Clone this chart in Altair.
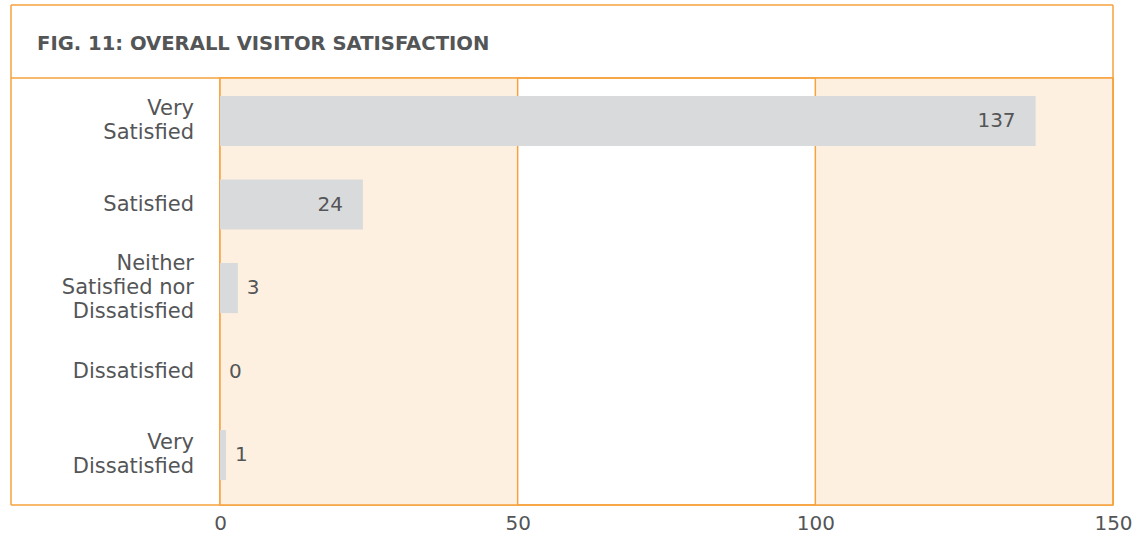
import altair as alt
import pandas as pd

# ---- data ----
categories = ["Very Satisfied", "Satisfied", "Neither Satisfied nor Dissatisfied",
              "Dissatisfied", "Very Dissatisfied"]
wrapped = ["Very\nSatisfied", "Satisfied", "Neither\nSatisfied nor\nDissatisfied",
           "Dissatisfied", "Very\nDissatisfied"]
counts = [137, 24, 3, 0, 1]
x_ticks = [0, 50, 100, 150]
band_starts = [0, 100]
band_ends = [50, 150]
title_text = "FIG. 11: OVERALL VISITOR SATISFACTION"

# ---- style ----
FONT = "DejaVu Sans"
TEXT = "#545557"
ORANGE = "#F7A23C"
BAND = "#FEF0E1"
BAR = "#D9DADC"
W, H = 893, 427
LH = 24
HALF_BAR = 25  # half of the bar thickness (yOffset is measured from band start)

df = pd.DataFrame({"category": categories, "label": wrapped, "count": counts})
bands = pd.DataFrame({"start": band_starts, "end": band_ends})
grid = pd.DataFrame({"tick": x_ticks})
one = pd.DataFrame({"k": [0]})

xscale = alt.Scale(domain=[0, 150], nice=False, zero=True)
yscale = alt.Scale(paddingInner=0.4, paddingOuter=0.257, align=0.42)

band_layer = alt.Chart(bands).mark_rect(color=BAND).encode(
    x=alt.X("start:Q", scale=xscale),
    x2="end:Q",
    y=alt.value(0),
    y2=alt.value(H),
)

grid_layer = alt.Chart(grid).mark_rule(color=ORANGE, strokeWidth=1.5).encode(
    x=alt.X("tick:Q", scale=xscale),
)

bars = alt.Chart(df).mark_bar(color=BAR).encode(
    x=alt.X("count:Q", scale=xscale,
            axis=alt.Axis(values=x_ticks, grid=False, domain=False, ticks=False,
                          labelFontSize=20, labelFont=FONT, labelColor=TEXT,
                          labelPadding=8, title=None, format="d", labelFlush=False)),
    y=alt.Y("category:N", sort=categories, scale=yscale, axis=None),
)

ylabels = alt.Chart(df).transform_calculate(
    lines="split(datum.label, '\\n')",
    off=f"{HALF_BAR} - (length(split(datum.label, '\\n')) - 1) * {LH / 2}",
).mark_text(
    align="right", baseline="middle", fontSize=21, font=FONT, color=TEXT,
    lineHeight=LH,
).encode(
    x=alt.value(-26),
    y=alt.Y("category:N", sort=categories, scale=yscale),
    yOffset=alt.YOffset("off:Q", scale=None),
    text="lines:N",
)

inside = alt.Chart(df).transform_filter("datum.count >= 10").mark_text(
    align="right", baseline="middle", dx=-20, fontSize=20, font=FONT, color=TEXT
).encode(
    x=alt.X("count:Q", scale=xscale),
    y=alt.Y("category:N", sort=categories, scale=yscale),
    text="count:Q",
)

outside = alt.Chart(df).transform_filter("datum.count < 10").mark_text(
    align="left", baseline="middle", dx=9, fontSize=20, font=FONT, color=TEXT
).encode(
    x=alt.X("count:Q", scale=xscale),
    y=alt.Y("category:N", sort=categories, scale=yscale),
    text="count:Q",
)

def hrule(x1, x2, y):
    return alt.Chart(one).mark_rule(color=ORANGE, strokeWidth=1.5).encode(
        x=alt.value(x1), x2=alt.value(x2), y=alt.value(y))

def vrule(x, y1, y2):
    return alt.Chart(one).mark_rule(color=ORANGE, strokeWidth=1.5).encode(
        x=alt.value(x), y=alt.value(y1), y2=alt.value(y2))

frame = [
    hrule(-209, W, -73),
    hrule(-209, W, 0),
    hrule(-209, W, H),
    vrule(-209, -73, H),
    vrule(W, -73, H),
]

title = alt.Chart(one).mark_text(
    align="left", baseline="middle", fontSize=19.6, font=FONT, fontWeight=900,
    color=TEXT
).encode(x=alt.value(-183), y=alt.value(-34), text=alt.value(title_text))

chart = alt.layer(band_layer, grid_layer, bars, ylabels, inside, outside, *frame, title).properties(
    width=W, height=H,
    autosize=alt.AutoSizeParams(type="none"),
    padding={"left": 220, "top": 78, "right": 29, "bottom": 28},
).configure_view(stroke=ORANGE, strokeWidth=1.5)

chart.save("out.html", embed_options={"renderer": "svg", "actions": False})
